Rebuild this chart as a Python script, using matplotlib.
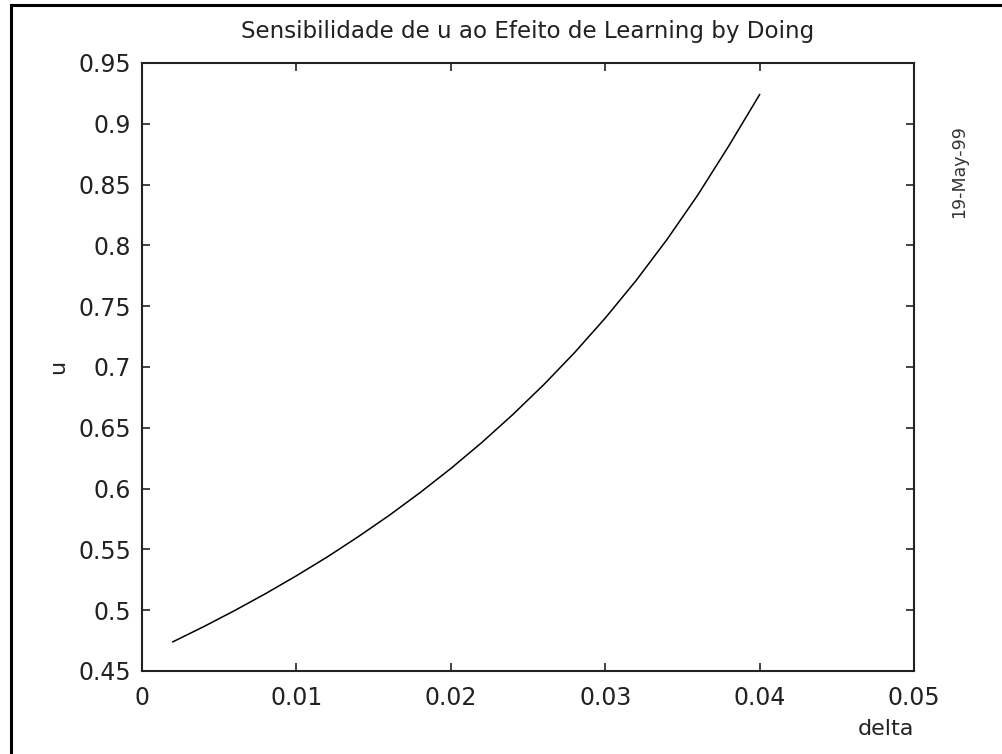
import numpy as np
import matplotlib
matplotlib.use("Agg")
import matplotlib.pyplot as plt
from matplotlib.patches import Rectangle

# values
delta = [0.002, 0.004, 0.006, 0.008, 0.010, 0.012, 0.014, 0.016, 0.018, 0.020,
         0.022, 0.024, 0.026, 0.028, 0.030, 0.032, 0.034, 0.036, 0.038, 0.040]
u = [0.4740, 0.4865, 0.4997, 0.5136, 0.5283, 0.5438, 0.5604, 0.5779, 0.5966, 0.6165,
     0.6378, 0.6607, 0.6852, 0.7116, 0.7402, 0.7711, 0.8048, 0.8415, 0.8817, 0.9240]

xticks = [0, 0.01, 0.02, 0.03, 0.04, 0.05]
xticklabels = ['0', '0.01', '0.02', '0.03', '0.04', '0.05']
yticks = [0.45, 0.5, 0.55, 0.6, 0.65, 0.7, 0.75, 0.8, 0.85, 0.9, 0.95]
yticklabels = ['0.45', '0.5', '0.55', '0.6', '0.65', '0.7', '0.75', '0.8', '0.85', '0.9', '0.95']

plt.rcParams['font.family'] = ['DejaVu Sans']

W, H = 1002, 754
fig = plt.figure(figsize=(W/100, H/100), dpi=100)
fig.patch.set_facecolor('white')

# outer frame (only left/top edges visible in the reference)
fig.add_artist(Rectangle((11/W, -0.5), 2.0, 1.5 - 5/H, transform=fig.transFigure,
                         fill=False, lw=2.2, edgecolor='black'))

ax = fig.add_axes([142/W, 1 - 671/H, (914-142)/W, (671-63)/H])
ax.plot(delta, u, color='black', lw=1.1)

ax.set_xlim(0, 0.05)
ax.set_ylim(0.45, 0.95)
ax.set_xticks(xticks)
ax.set_xticklabels(xticklabels)
ax.set_yticks(yticks)
ax.set_yticklabels(yticklabels)
ax.tick_params(direction='in', length=6, width=1.2, top=True, right=True,
               labelsize=17, colors='#222222')
ax.tick_params(axis='x', pad=11)
ax.tick_params(axis='y', pad=8)
for s in ax.spines.values():
    s.set_linewidth(1.5)
    s.set_color('#222222')

ax.set_title('Sensibilidade de u ao Efeito de Learning by Doing', fontsize=16.6,
             color='#222222', pad=18)
ax.set_xlabel('delta', loc='right', fontsize=16, color='#222222', labelpad=6)
ax.set_ylabel('u', fontsize=16, color='#222222')
ax.yaxis.set_label_coords(-0.096, 0.5)

fig.text(959/W, 1 - 172/H, '19-May-99', rotation=90, ha='center', va='center',
         fontsize=12.5, color='#333333')

fig.savefig('out.png', dpi=100, facecolor='white')
